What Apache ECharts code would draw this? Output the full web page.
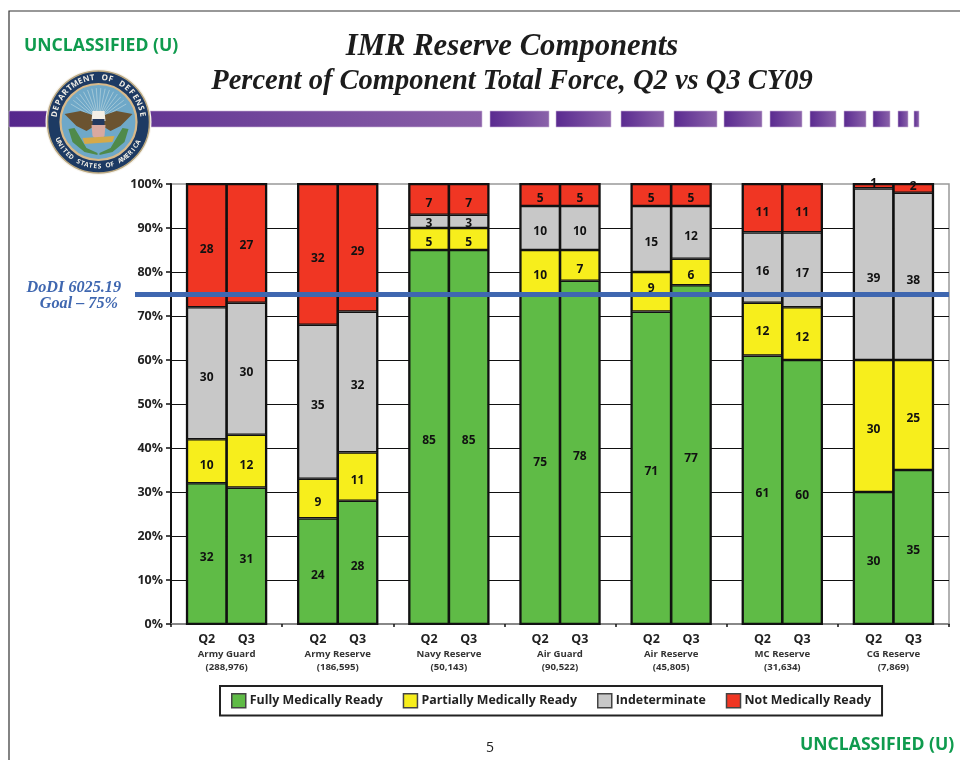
<!DOCTYPE html>
<html>
<head>
<meta charset="utf-8">
<style>html,body{margin:0;padding:0;background:#fff}#c{width:960px;height:760px}</style>
<script src="https://cdn.jsdelivr.net/npm/echarts@6/dist/echarts.min.js"></script>
</head>
<body>
<div id="c"></div>
<script>
var components = ['Army Guard','Army Reserve','Navy Reserve','Air Guard','Air Reserve','MC Reserve','CG Reserve'];
var forceTotals = ['(288,976)','(186,595)','(50,143)','(90,522)','(45,805)','(31,634)','(7,869)'];
var quarters = ['Q2','Q3'];
var statuses = ['Fully Medically Ready','Partially Medically Ready','Indeterminate','Not Medically Ready'];
var statusColors = ['#5fbb46','#f7ee1c','#c8c8c8','#f03623'];
var fullyQ2 = [32,24,85,75,71,61,30];
var partialQ2 = [10,9,5,10,9,12,30];
var indetQ2 = [30,35,3,10,15,16,39];
var notQ2 = [28,32,7,5,5,11,1];
var fullyQ3 = [31,28,85,78,77,60,35];
var partialQ3 = [12,11,5,7,6,12,25];
var indetQ3 = [30,32,3,10,12,17,38];
var notQ3 = [27,29,7,5,5,11,2];
var goalValue = 75;
var yTicks = {min:0,max:100,interval:10};

var FONT = '"Open Sans", "Noto Sans", sans-serif';
var SERIF = '"Liberation Serif", serif';
var q2 = [fullyQ2, partialQ2, indetQ2, notQ2];
var q3 = [fullyQ3, partialQ3, indetQ3, notQ3];
// thin-segment labels sit off-centre in the source: [quarter, status, component, dy]
var labelNudges = [[0,1,4,-7],[0,3,6,-7],[1,3,6,-6],[0,2,2,-2],[1,2,2,-2],[1,3,0,-2],[0,1,5,-2]];

var series = [];
[q2, q3].forEach(function (set, qi) {
  set.forEach(function (vals, si) {
    var items = vals.map(function (v, ci) {
      var n = labelNudges.filter(function (k) { return k[0] === qi && k[1] === si && k[2] === ci; })[0];
      return n ? {value: v, label: {offset: [0, 4 + n[3]]}} : v;
    });
    series.push({
      type: 'bar', name: statuses[si], stack: quarters[qi], data: items,
      barWidth: 39.7, barGap: '0%', z: 3,
      showBackground: si === 0,
      backgroundStyle: {color: 'rgba(0,0,0,0)', borderColor: '#111', borderWidth: 2},
      itemStyle: {color: statusColors[si], borderColor: '#111', borderWidth: 1.3},
      label: {show: true, position: 'inside', offset: [0, 4], color: '#111', fontFamily: FONT, fontWeight: 700, fontSize: 12}
    });
  });
});
series.push({
  type: 'line', name: 'Goal', data: [], z: 6, silent: true,
  markLine: {
    silent: true, symbol: 'none', animation: false,
    label: {show: false},
    lineStyle: {color: '#3f67b0', width: 5, type: 'solid', opacity: 1},
    data: [[{x: 135, yAxis: goalValue}, {x: 949, yAxis: goalValue}]]
  }
});

// decoration
var g = [];
g.push({type:'polyline',z:1,shape:{points:[[9,760],[9,11],[960,11]]},style:{stroke:'#333',lineWidth:1.2,fill:null}});
function band(x0,x1,c0,c1){
  g.push({type:'rect',z:1,shape:{x:x0,y:111,width:x1-x0,height:16},
    style:{fill:{type:'linear',x:0,y:0,x2:1,y2:0,colorStops:[{offset:0,color:c0},{offset:1,color:c1}]},stroke:'#c9b4d6',lineWidth:0.6}});
}
band(9,482,'#55278c','#8a60a8');
[[490,549],[556,611],[621,664],[674,717],[724,762],[770,802],[810,836],[844,866],[873,890],[898,908],[914,919]].forEach(function(b){
  band(b[0],b[1],'#5a2a90','#8b63aa');
});
function tx(x,y,t,font,fill,align){
  g.push({type:'text',z:5,x:x,y:y,style:{text:t,font:font,fill:fill,textAlign:align||'left',textVerticalAlign:'middle'}});
}
var greenFont = '700 17.6px ' + FONT;
tx(24,46,'UNCLASSIFIED (U)',greenFont,'#0f9b4e');
tx(800,745,'UNCLASSIFIED (U)',greenFont,'#0f9b4e');
tx(490,748,'5','400 14px '+FONT,'#222','center');
tx(121,288,'DoDI 6025.19','italic 700 16.2px '+SERIF,'#3f67b0','right');
tx(118,304,'Goal – 75%','italic 700 16.2px '+SERIF,'#3f67b0','right');

// seal
var cx=98.5, cy=122;
function circ(r,fill,stroke,lw){g.push({type:'circle',z:2,shape:{cx:cx,cy:cy,r:r},style:{fill:fill,stroke:stroke||null,lineWidth:lw||0}});}
circ(53,'#f7f4ee');
circ(51,'#1d3a63','#b9a67e',1.5);
circ(38,'#6fa8c8','#d8b98a',2.2);
for(var a=-150;a<=-30;a+=8){
  var ra=a*Math.PI/180;
  g.push({type:'line',z:2,shape:{x1:cx+8*Math.cos(ra),y1:cy-2+8*Math.sin(ra),x2:cx+32*Math.cos(ra),y2:cy-2+32*Math.sin(ra)},style:{stroke:'#b6d2dc',lineWidth:0.7}});
}
function poly(pts,fill){g.push({type:'polygon',z:2,shape:{points:pts.map(function(p){return [cx+p[0],cy+p[1]];})},style:{fill:fill}});}
poly([[-34,-8],[-18,-11],[-6,-7],[-4,4],[-12,9],[-22,4]],'#6b5330');
poly([[34,-8],[18,-11],[6,-7],[4,4],[12,9],[22,4]],'#6b5330');
poly([[-6,-11],[6,-11],[7,-1],[-7,-1]],'#f3efe6');
poly([[-6,-3],[6,-3],[6,3],[-6,3]],'#23395f');
poly([[-7,3],[7,3],[6,14],[0,20],[-6,14]],'#d9a9a0');
poly([[-16,16],[16,14],[14,20],[-14,22]],'#d5a94a');
poly([[-30,7],[-24,6],[-12,26],[-1,31],[-1,33],[-14,30],[-26,20]],'#4f8a4a');
poly([[30,7],[24,6],[12,26],[1,31],[1,33],[14,30],[26,20]],'#4f8a4a');
function arcText(str,startDeg,stepDeg,r,flip){
  for(var i=0;i<str.length;i++){
    var d=startDeg+i*stepDeg, rad=d*Math.PI/180;
    g.push({type:'text',z:4,x:cx+r*Math.cos(rad),y:cy+r*Math.sin(rad),
      rotation: flip ? -(d-90)*Math.PI/180 : -(d+90)*Math.PI/180,
      style:{text:str.charAt(i),font:'700 '+(flip?6.5:8)+'px '+FONT,fill:'#f2efe6',textAlign:'center',textVerticalAlign:'middle'}});
  }
}
arcText('DEPARTMENT OF DEFENSE',-170,8,44.5,false);
arcText('UNITED STATES OF AMERICA',156,-5.6,44.5,true);

var titleLine1 = 'IMR Reserve Components';
var titleLine2 = 'Percent of Component Total Force, Q2 vs Q3 CY09';

var chart = echarts.init(document.getElementById('c'), null, {renderer:'canvas', width:960, height:760});
chart.setOption({
  animation: false,
  backgroundColor: '#fff',
  title: {
    text: '{a|' + titleLine1 + '}\n{b|' + titleLine2 + '}', left: 507, top: 25, textAlign: 'center',
    textStyle: {
      rich: {
        a: {fontFamily: SERIF, fontStyle: 'italic', fontWeight: 700, fontSize: 30.7, lineHeight: 35, color: '#1c1c1c', align: 'center'},
        b: {fontFamily: SERIF, fontStyle: 'italic', fontWeight: 700, fontSize: 28.5, lineHeight: 33, color: '#1c1c1c', align: 'center'}
      }
    }
  },
  grid: {left: 171, right: 11, top: 184, height: 440, show: true, borderColor: '#999', borderWidth: 1.5, backgroundColor: 'transparent'},
  legend: {
    data: statuses, left: 220, top: 686, padding: [7, 11, 7, 11],
    backgroundColor: '#fff', borderColor: '#222', borderWidth: 2, borderRadius: 0,
    itemWidth: 14, itemHeight: 14, itemGap: 20, icon: 'rect', selectedMode: false,
    itemStyle: {borderColor: '#444', borderWidth: 1.5},
    textStyle: {fontFamily: FONT, fontWeight: 700, fontSize: 12.4, color: '#222', padding: [0, 0, 0, -1]}
  },
  xAxis: {
    type: 'category', data: components, boundaryGap: true,
    axisLine: {lineStyle: {color: '#888', width: 2}},
    axisTick: {show: true, length: 3, lineStyle: {color: '#111', width: 1.5}},
    axisLabel: {
      interval: 0, margin: 6, hideOverlap: false,
      formatter: function (name, i) {
        return '{q|' + quarters[0] + '}{q|' + quarters[1] + '}\n{n|' + name + '}\n{n|' + forceTotals[i] + '}';
      },
      rich: {
        q: {width: 39.7, align: 'center', fontFamily: FONT, fontWeight: 700, fontSize: 12.5, color: '#222', lineHeight: 18},
        n: {fontFamily: FONT, fontWeight: 700, fontSize: 9.6, color: '#333', lineHeight: 13, align: 'center'}
      }
    }
  },
  yAxis: {
    type: 'value', min: yTicks.min, max: yTicks.max, interval: yTicks.interval,
    axisLine: {show: true, lineStyle: {color: '#111', width: 2}},
    axisTick: {show: true, length: 5, lineStyle: {color: '#111', width: 1.5}},
    axisLabel: {margin: 8, formatter: '{value}%', fontFamily: FONT, fontWeight: 700, fontSize: 12.5, color: '#222'},
    splitLine: {show: true, showMinLine: false, showMaxLine: false, lineStyle: {color: '#111', width: 1}}
  },
  graphic: {elements: g},
  series: series
});
</script>
</body>
</html>
